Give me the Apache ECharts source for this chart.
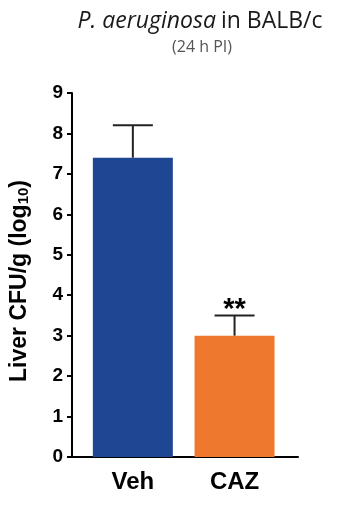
<!DOCTYPE html>
<html>
<head>
<meta charset="utf-8">
<script src="https://cdn.jsdelivr.net/npm/echarts@6/dist/echarts.min.js"></script>
<style>
  html, body { margin: 0; padding: 0; background: #fff; }
  #chart { width: 337px; height: 509px; }
</style>
</head>
<body>
<div id="chart"></div>
<script>
// Liver bacterial burden, vehicle vs ceftazidime
const groups = ['Veh', 'CAZ'];
const meanLog = [7.4, 3.0];
const upperErr = [8.2, 3.5];
const significance = ['', '**'];
const barColors = ['#1f4692', '#ee782d'];
const yTicks = [0, 1, 2, 3, 4, 5, 6, 7, 8, 9];

const chart = echarts.init(document.getElementById('chart'));

const axisBlack = { color: '#000', width: 2 };

chart.setOption({
  animation: false,
  title: [
    {
      text: '{i|P. aeruginosa} {n|in BALB/c}',
      left: 195, top: 5, textAlign: 'center',
      textStyle: {
        rich: {
          i: { fontFamily: 'Open Sans', fontStyle: 'italic', fontWeight: 500, fontSize: 23, color: '#1a1a1a' },
          n: { fontFamily: 'Open Sans', fontWeight: 500, fontSize: 23, color: '#1a1a1a' }
        }
      }
    },
    {
      text: '(24 h PI)',
      left: 197, top: 34, textAlign: 'center',
      textStyle: { fontFamily: 'Open Sans', fontSize: 16, fontWeight: 'normal', color: '#555' }
    }
  ],
  grid: [
    { left: 72, right: 39, top: 93, bottom: 52 },
    { left: 82, right: 51.6, top: 93, bottom: 52 }
  ],
  xAxis: [
    {
      gridIndex: 0, type: 'category', data: groups,
      axisLine: { lineStyle: axisBlack },
      axisTick: { show: false }, axisLabel: { show: false }
    },
    {
      gridIndex: 1, type: 'category', data: groups,
      axisLine: { show: false }, axisTick: { show: false },
      axisLabel: {
        margin: 13, color: '#000', fontFamily: 'Liberation Sans',
        fontWeight: 'bold', fontSize: 24
      }
    }
  ],
  yAxis: [
    {
      gridIndex: 0, type: 'value', min: yTicks[0], max: yTicks[yTicks.length - 1], interval: 1,
      splitLine: { show: false },
      axisLine: { show: true, lineStyle: axisBlack },
      axisTick: { show: true, length: 5, lineStyle: axisBlack },
      axisLabel: {
        margin: 9, color: '#000', fontFamily: 'Liberation Sans',
        fontWeight: 'bold', fontSize: 19
      },
      name: '{m|Liver CFU/g (log}{s|10}{m|)}',
      nameLocation: 'middle', nameGap: 41, nameRotate: 90,
      nameTextStyle: {
        padding: [0, 12, 0, 0],
        rich: {
          m: { fontFamily: 'Liberation Sans', fontWeight: 'bold', fontSize: 23, color: '#000' },
          s: { fontFamily: 'Liberation Sans', fontWeight: 'bold', fontSize: 15, color: '#000', verticalAlign: 'bottom', padding: [8, 0, 0, 0] }
        }
      }
    },
    {
      gridIndex: 1, type: 'value', min: 0, max: 9, show: false,
      splitLine: { show: false }
    }
  ],
  series: [
    {
      type: 'bar', xAxisIndex: 1, yAxisIndex: 1, barWidth: 80,
      data: meanLog.map((v, i) => ({ value: v, itemStyle: { color: barColors[i] } }))
    },
    {
      type: 'custom', xAxisIndex: 1, yAxisIndex: 1, z: 5,
      data: groups.map((g, i) => [i, meanLog[i], upperErr[i]]),
      renderItem: function (params, api) {
        const base = api.coord([api.value(0), api.value(1)]);
        const top = api.coord([api.value(0), api.value(2)]);
        const capHalf = 20;
        const style = { stroke: '#222', lineWidth: 2 };
        const children = [
          { type: 'line', shape: { x1: base[0], y1: base[1], x2: top[0], y2: top[1] }, style: style },
          { type: 'line', shape: { x1: top[0] - capHalf, y1: top[1], x2: top[0] + capHalf, y2: top[1] }, style: style }
        ];
        const mark = significance[params.dataIndex];
        if (mark) {
          children.push({
            type: 'text',
            style: {
              text: mark, x: top[0], y: top[1] + 9,
              align: 'center', verticalAlign: 'bottom',
              font: 'bold 29px "Liberation Sans"', fill: '#000'
            }
          });
        }
        return { type: 'group', children: children };
      }
    }
  ]
});
</script>
</body>
</html>
